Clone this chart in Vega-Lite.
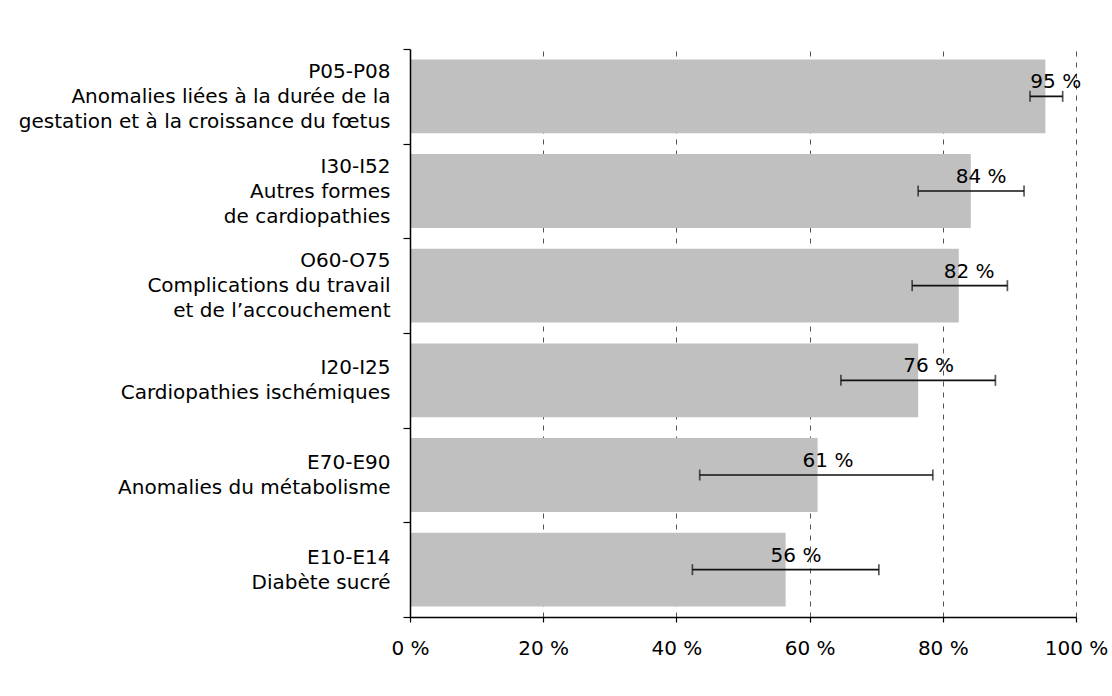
{
  "$schema": "https://vega.github.io/schema/vega-lite/v6.json",
  "width": 666,
  "height": 568,
  "autosize": "none",
  "padding": {"left": 410, "top": 49, "right": 36, "bottom": 79},
  "background": "white",
  "config": {
    "view": {"stroke": null},
    "font": "DejaVu Sans"
  },
  "data": {
    "values": [
      {"category": "P05-P08|Anomalies liées à la durée de la|gestation et à la croissance du fœtus", "value": 95.4, "lo": 93.1, "hi": 98.0},
      {"category": "I30-I52|Autres formes|de cardiopathies", "value": 84.2, "lo": 76.3, "hi": 92.2},
      {"category": "O60-O75|Complications du travail|et de l’accouchement", "value": 82.4, "lo": 75.4, "hi": 89.7},
      {"category": "I20-I25|Cardiopathies ischémiques", "value": 76.3, "lo": 64.7, "hi": 87.9},
      {"category": "E70-E90|Anomalies du métabolisme", "value": 61.2, "lo": 43.5, "hi": 78.5},
      {"category": "E10-E14|Diabète sucré", "value": 56.4, "lo": 42.4, "hi": 70.4}
    ]
  },
  "transform": [
    {"calculate": "format(datum.value, '.0f') + ' %'", "as": "label"}
  ],
  "encoding": {
    "y": {
      "field": "category",
      "type": "nominal",
      "sort": null,
      "scale": {"paddingInner": 0, "paddingOuter": 0},
      "axis": {
        "title": null,
        "labelExpr": "split(datum.label, '|')",
        "labelLineHeight": 25,
        "labelOffset": {"expr": "-(length(split(datum.label, '|')) - 1) * 12.5"},
        "labelFontSize": 20,
        "labelColor": "#000",
        "labelPadding": 13,
        "labelLimit": 500,
        "tickBand": "extent",
        "tickSize": 7,
        "tickColor": "#000",
        "tickWidth": 1.2,
        "domainColor": "#000",
        "domainWidth": 1.5,
        "zindex": 1
      }
    }
  },
  "layer": [
    {
      "mark": {"type": "bar", "color": "#c0c0c0", "height": {"band": 0.78}},
      "encoding": {
        "x": {
          "field": "value",
          "type": "quantitative",
          "scale": {"domain": [0, 100], "nice": false},
          "axis": {
            "title": null,
            "values": [0, 20, 40, 60, 80, 100],
            "labelExpr": "datum.value + ' %'",
            "labelFlush": false,
            "labelFontSize": 20,
            "labelColor": "#000",
            "labelPadding": 16,
            "tickSize": 5,
            "tickColor": "#000",
            "tickWidth": 1.2,
            "domainColor": "#000",
            "domainWidth": 1.5,
            "grid": true,
            "gridColor": "#555",
            "gridDash": [5, 6],
            "gridWidth": 1,
            "zindex": 0
          }
        }
      }
    },
    {
      "mark": {"type": "rule", "color": "#111", "strokeWidth": 1.7},
      "encoding": {
        "x": {"field": "lo", "type": "quantitative"},
        "x2": {"field": "hi"}
      }
    },
    {
      "mark": {"type": "tick", "color": "#111", "thickness": 1.7, "size": 11},
      "encoding": {"x": {"field": "lo", "type": "quantitative"}}
    },
    {
      "mark": {"type": "tick", "color": "#111", "thickness": 1.7, "size": 11},
      "encoding": {"x": {"field": "hi", "type": "quantitative"}}
    },
    {
      "mark": {"type": "text", "align": "left", "baseline": "alphabetic", "dx": -15, "dy": -8, "fontSize": 20, "color": "#000"},
      "encoding": {
        "x": {"field": "value", "type": "quantitative"},
        "text": {"field": "label"}
      }
    }
  ]
}
